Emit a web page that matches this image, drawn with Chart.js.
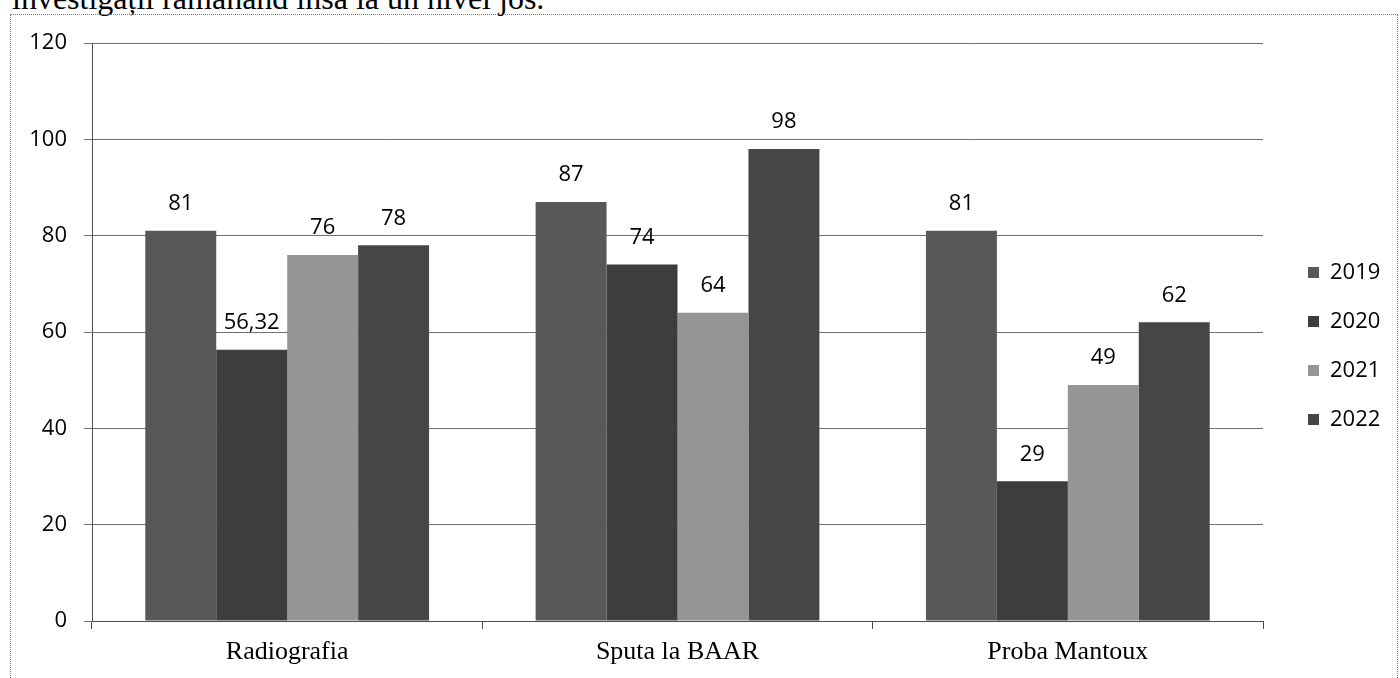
<!DOCTYPE html>
<html>
<head>
<meta charset="utf-8">
<script src="https://cdn.jsdelivr.net/npm/chart.js@4"></script>
<style>
  html, body { margin: 0; padding: 0; background: #fff; }
  #wrap { position: relative; width: 1400px; height: 678px; overflow: hidden; }
  #caption {
    position: absolute; left: 12px; top: -22px;
    font-family: "Liberation Serif", serif; font-size: 32px; line-height: 40px;
    color: #000; white-space: nowrap;
  }
  #frame {
    position: absolute; left: 10px; top: 14px; width: 1388px; height: 700px;
    border: 1px dotted #7a7a7a; box-sizing: border-box;
  }
  #chart { position: absolute; left: 0; top: 0; }
</style>
</head>
<body>
<div id="wrap">
  <div id="caption">investigații rămânând însă la un nivel jos.</div>
  <div id="frame"></div>
  <canvas id="chart" width="1400" height="678"></canvas>
</div>
<script>
// categorii si valori pe ani
const categories = ["Radiografia", "Sputa la BAAR", "Proba Mantoux"];
const years = ["2019", "2020", "2021", "2022"];
const values2019 = [81, 87, 81];
const values2020 = [56.32, 74, 29];
const values2021 = [76, 64, 49];
const values2022 = [78, 98, 62];
const yTicks = [0, 20, 40, 60, 80, 100, 120];

const colors = ["#585858", "#3d3d3d", "#959595", "#464646"];
const series = [values2019, values2020, values2021, values2022];

const sansFont = "'Open Sans', 'Noto Sans', sans-serif";

// etichete cu valoarea deasupra fiecarei coloane
const valueLabels = {
  id: "valueLabels",
  afterDatasetsDraw(chart) {
    const ctx = chart.ctx;
    ctx.save();
    ctx.font = "22px " + sansFont;
    ctx.fillStyle = "#000";
    ctx.textAlign = "center";
    ctx.textBaseline = "middle";
    chart.data.datasets.forEach((ds, i) => {
      chart.getDatasetMeta(i).data.forEach((bar, j) => {
        const txt = String(ds.data[j]).replace(".", ",");
        ctx.fillText(txt, bar.x, bar.y - 27);
      });
    });
    ctx.restore();
  }
};

// legenda verticala in dreapta
const sideLegend = {
  id: "sideLegend",
  afterDraw(chart) {
    const ctx = chart.ctx;
    ctx.save();
    ctx.font = "22px " + sansFont;
    ctx.textAlign = "left";
    ctx.textBaseline = "middle";
    chart.data.datasets.forEach((ds, i) => {
      const y = 272 + i * 49;
      ctx.fillStyle = ds.backgroundColor;
      ctx.fillRect(1308, y - 5, 11, 11);
      ctx.fillStyle = "#000";
      ctx.fillText(ds.label, 1330, y + 1);
    });
    ctx.restore();
  }
};

new Chart(document.getElementById("chart"), {
  type: "bar",
  data: {
    labels: categories,
    datasets: years.map((y, i) => ({
      label: y,
      data: series[i],
      backgroundColor: colors[i],
      borderWidth: 0,
      categoryPercentage: 0.727,
      barPercentage: 1
    }))
  },
  options: {
    responsive: false,
    animation: false,
    layout: { padding: { top: 43, right: 137, bottom: 0, left: 0 } },
    plugins: {
      legend: { display: false },
      tooltip: { enabled: false }
    },
    scales: {
      x: {
        afterFit: (s) => { s.height = 57; },
        grid: {
          offset: true,
          drawOnChartArea: false,
          drawTicks: true,
          tickLength: 8,
          color: "#4a4a4a"
        },
        border: { color: "#4a4a4a", width: 1 },
        ticks: {
          color: "#000",
          padding: 8,
          font: { family: "'Liberation Serif', serif", size: 26 }
        }
      },
      y: {
        min: 0,
        max: 120,
        afterFit: (s) => { s.width = 92; },
        afterBuildTicks: (s) => { s.ticks = yTicks.map((v) => ({ value: v })); },
        grid: { color: "#707070", tickLength: 8 },
        border: { color: "#4a4a4a", width: 1 },
        ticks: {
          color: "#000",
          padding: 17,
          font: { family: sansFont, size: 22 }
        }
      }
    }
  },
  plugins: [valueLabels, sideLegend]
});
</script>
</body>
</html>
